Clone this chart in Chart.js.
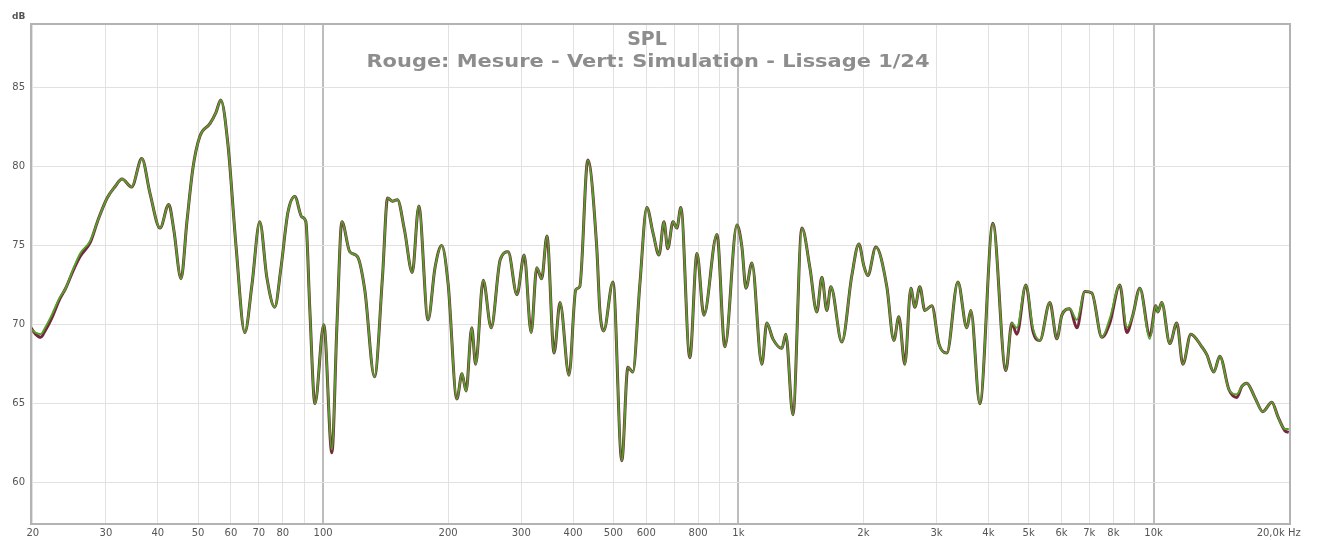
<!DOCTYPE html>
<html><head><meta charset="utf-8">
<script src="https://cdn.jsdelivr.net/npm/chart.js@4/dist/chart.umd.min.js"></script>
<style>html,body{margin:0;padding:0;background:#fff}#wrap{width:1319px;height:540px;position:relative}</style>
</head><body><div id="wrap"><canvas id="c"></canvas></div>
<script>
const freqHz = [19.8,20.3,20.9,21.4,22.2,23.2,24.0,25.0,26.0,27.5,28.7,30.2,31.5,32.8,34.6,36.6,38.3,40.5,42.5,43.7,
45.5,47.0,48.6,50.5,53.4,55.2,56.7,59.0,61.7,64.8,67.4,70.4,73.2,76.5,79.1,82.3,85.5,88.9,90.9,92.9,
95.6,100.4,105,108,111,116,121,126,133,139,143,147,151,157,164,170,179,186,193,200,
210,216,221,228,233,243,254,267,279,293,305,317,327,336,346,360,372,391,406,415,
434,456,464,474,499,524,542,557,579,602,623,644,662,676,696,711,727,764,795,826,
888,928,992,1020,1043,1078,1139,1171,1211,1273,1301,1353,1422,1487,1545,1589,1633,1670,1775,1876,
1951,2006,2050,2143,2278,2368,2435,2517,2602,2661,2735,2812,2924,3040,3177,3378,3550,3629,3815,4101,
4407,4556,4684,4924,5119,5321,5625,5847,6012,6284,6533,6828,7099,7504,7843,8290,8619,8910,9264,9793,
10120,10240,10460,10940,11370,11760,12290,13060,13430,13960,14430,15180,15860,16310,16760,17530,18320,19260,19910,20700,
21160];
const vertSimulation = [69.7,69.5,69.4,69.8,70.6,71.7,72.3,73.5,74.5,75.3,76.6,78.0,78.7,79.2,78.7,80.5,78.3,76.1,77.6,76.0,
72.9,76.5,79.9,81.9,82.7,83.4,84.2,81.4,75.0,69.5,72.5,76.5,73.0,71.1,73.5,77.1,78.1,76.8,76.5,71.0,
65.0,70.0,62.1,70.0,76.5,74.6,74.3,72.2,66.7,73.0,78.0,77.8,77.9,76.0,73.3,77.5,70.3,73.6,75.0,72.6,
65.3,66.9,65.8,69.8,67.5,72.8,69.8,74.1,74.6,71.9,74.4,69.5,73.6,72.9,75.6,68.2,71.4,66.8,72.2,72.4,
80.4,74.9,70.9,69.6,72.7,61.4,67.3,67.0,72.5,77.4,75.8,74.4,76.5,74.8,76.5,76.1,77.4,67.9,74.5,70.6,
75.7,68.6,76.3,74.9,72.3,73.9,67.5,70.1,69.1,68.5,69.4,64.3,76.1,73.6,70.8,73.0,70.9,72.4,68.9,73.1,
75.1,73.7,73.1,74.9,72.4,69.0,70.5,67.5,72.3,71.1,72.4,70.9,71.2,68.8,68.2,72.7,69.8,70.9,65.0,76.4,
67.1,70.1,69.8,72.5,69.8,69.0,71.4,69.1,70.6,71.0,70.3,72.1,72.0,69.2,70.4,72.5,69.8,70.6,72.3,69.1,
71.2,70.8,71.4,68.8,70.1,67.5,69.4,68.6,68.1,67.0,68.0,65.9,65.6,66.1,66.3,65.4,64.5,65.1,64.2,63.4,
63.4];
const rougeMesure = [69.8,69.4,69.2,69.6,70.4,71.6,72.3,73.4,74.3,75.2,76.6,78.0,78.7,79.2,78.7,80.5,78.3,76.1,77.6,76.0,
72.9,76.5,79.9,81.9,82.7,83.4,84.2,81.4,75.0,69.5,72.5,76.5,73.0,71.1,73.5,77.1,78.1,76.8,76.5,71.0,
65.0,70.0,61.9,70.0,76.5,74.6,74.3,72.2,66.7,73.0,78.0,77.8,77.9,76.0,73.3,77.5,70.3,73.6,75.0,72.6,
65.3,66.9,65.8,69.8,67.5,72.8,69.8,74.1,74.6,71.9,74.4,69.5,73.6,72.9,75.6,68.2,71.4,66.8,72.2,72.4,
80.4,74.9,70.9,69.6,72.7,61.4,67.3,67.0,72.5,77.4,75.8,74.4,76.5,74.8,76.5,76.1,77.4,67.9,74.5,70.6,
75.7,68.6,76.3,74.9,72.3,73.9,67.5,70.1,69.1,68.5,69.4,64.3,76.1,73.6,70.8,73.0,70.9,72.4,68.9,73.1,
75.1,73.7,73.1,74.9,72.4,69.0,70.5,67.5,72.3,71.1,72.4,70.9,71.2,68.8,68.2,72.7,69.8,70.9,65.0,76.4,
67.1,70.1,69.4,72.5,69.6,69.0,71.4,69.1,70.6,71.0,69.8,72.1,72.0,69.2,70.1,72.5,69.5,70.6,72.3,69.3,
71.2,70.8,71.4,68.8,70.1,67.5,69.4,68.6,68.1,67.0,68.0,65.9,65.4,66.1,66.3,65.4,64.5,65.1,64.2,63.3,
63.2];
const xTickValues = [20,30,40,50,60,70,80,90,100,200,300,400,500,600,700,800,900,1000,2000,3000,4000,5000,6000,7000,8000,9000,10000,20000];
const xTickLabels = ['20','30','40','50','60','70','80','','100','200','300','400','500','600','','800','','1k','2k','3k','4k','5k','6k','7k','8k','','10k','20,0k Hz'];
const xMajorLines = [100,1000,10000];
const yTickValues = [60,65,70,75,80,85];
const titleText = 'SPL';
const subtitleText = 'Rouge: Mesure - Vert: Simulation - Lissage 1/24';
const yUnit = 'dB';

const FONT = '"DejaVu Sans", "Liberation Sans", sans-serif';
const mk = ys => freqHz.map((f, i) => ({x: f, y: ys[i]}));

const decor = {
  id: 'decor',
  beforeDatasetsDraw(chart) {
    const {ctx} = chart;
    ctx.save();
    ctx.fillStyle = '#8d8d8d';
    ctx.textAlign = 'center';
    ctx.textBaseline = 'alphabetic';
    ctx.font = 'bold 19px ' + FONT;
    ctx.fillText(titleText, 647, 45);
    ctx.font = 'bold 18px ' + FONT;
    const w = ctx.measureText(subtitleText).width;
    const sx = 563 / w;
    ctx.translate(648, 67);
    ctx.scale(sx, 1);
    ctx.fillText(subtitleText, 0, 0);
    ctx.restore();
  },
  afterDraw(chart) {
    const {ctx, chartArea: a} = chart;
    ctx.save();
    ctx.strokeStyle = '#b3b3b3';
    ctx.lineWidth = 2;
    ctx.strokeRect(a.left, a.top, a.right - a.left, a.bottom - a.top);
    ctx.fillStyle = '#555';
    ctx.font = 'bold 9px ' + FONT;
    ctx.textAlign = 'left';
    ctx.textBaseline = 'alphabetic';
    ctx.fillText(yUnit, 12, 19);
    ctx.restore();
  }
};

new Chart(document.getElementById('c'), {
  type: 'line',
  data: {
    datasets: [
      {label: 'Vert: Simulation', data: mk(vertSimulation), borderColor: '#579f2c', borderWidth: 1.9,
       pointRadius: 0, cubicInterpolationMode: 'monotone', fill: false, order: 0},
      {label: 'Rouge: Mesure', data: mk(rougeMesure), borderColor: '#75283c', borderWidth: 3.0,
       pointRadius: 0, cubicInterpolationMode: 'monotone', fill: false, order: 1}
    ]
  },
  options: {
    responsive: true, maintainAspectRatio: false, animation: false,
    layout: {padding: {left: 0, right: 29, top: 24, bottom: 0}},
    plugins: {legend: {display: false}, tooltip: {enabled: false}, title: {display: false}},
    scales: {
      x: {
        type: 'logarithmic', min: 19.8, max: 21300,
        afterBuildTicks: s => { s.ticks = xTickValues.map(v => ({value: v})); },
        afterFit: s => { s.height = 16; },
        ticks: {autoSkip: false, maxRotation: 0, minRotation: 0, padding: 3, color: '#555',
                font: {family: FONT, size: 10}, callback: (v, i) => xTickLabels[i]},
        grid: {drawTicks: false,
               color: c => (c.tick && c.tick.value === 20000) ? 'rgba(0,0,0,0)' :
                           (c.tick && xMajorLines.includes(c.tick.value) ? '#bdbdbd' : '#e1e1e1'),
               lineWidth: c => (c.tick && xMajorLines.includes(c.tick.value)) ? 2 : 1},
        border: {display: false}
      },
      y: {
        min: 57.4, max: 89,
        afterBuildTicks: s => { s.ticks = yTickValues.map(v => ({value: v})); },
        afterFit: s => { s.width = 31; },
        ticks: {padding: 6, color: '#555', font: {family: FONT, size: 10}},
        grid: {drawTicks: false, color: '#e1e1e1', lineWidth: 1},
        border: {display: false}
      }
    }
  },
  plugins: [decor]
});
</script>
</body></html>
